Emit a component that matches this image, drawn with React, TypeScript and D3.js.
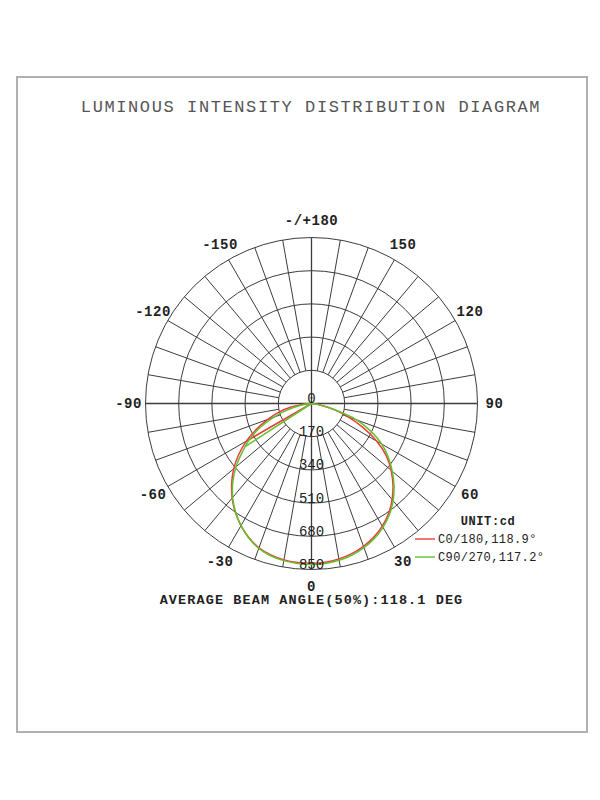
import React from "react";
import * as d3 from "d3";

const TITLE = "LUMINOUS INTENSITY DISTRIBUTION DIAGRAM";
const FOOTER = "AVERAGE BEAM ANGLE(50%):118.1 DEG";
const UNIT = "UNIT:cd";

const RING_VALUES = [170, 340, 510, 680, 850];
const RING_LABELS = ["0", "170", "340", "510", "680", "850"];
const ANGLE_TICKS = [0, 30, 60, 90, 120, 150, 180, -150, -120, -90, -60, -30];
const ANGLE_TICK_LABELS = ["0", "30", "60", "90", "120", "150", "-/+180", "-150", "-120", "-90", "-60", "-30"];

const GAMMA = [-90, -85, -80, -75, -70, -65, -60, -55, -50, -45, -40, -35, -30, -25, -20, -15, -10, -5, 0,
  5, 10, 15, 20, 25, 30, 35, 40, 45, 50, 55, 60, 65, 70, 75, 80, 85, 90];

const SERIES_NAMES = ["C0/180,118.9°", "C90/270,117.2°"];
const SERIES_COLORS = ["#f23a3a", "#62c22e"];

const C0_180 = [0, 40, 110, 175, 240, 310, 385, 455, 520, 578, 632, 680, 722, 758, 786, 803, 813, 817, 818,
  816, 808, 796, 778, 755, 725, 688, 642, 590, 532, 468, 385, 290, 200, 120, 50, 15, 0];
const C90_270 = [0, 20, 60, 130, 205, 290, 365, 432, 505, 570, 628, 678, 722, 760, 789, 807, 817, 822, 824,
  822, 815, 803, 785, 762, 732, 695, 650, 598, 540, 480, 415, 335, 245, 120, 40, 10, 0];
const SERIES = [C0_180, C90_270];

// closing chords drawn from the centre back to the curve
const CHORD_GAMMA = [-60, -57];
const CHORD_VALUE = [385, 405];

const CX = 311.5;
const CY = 403.5;
const R = 166;

export default function App() {
  const r = d3.scaleLinear().domain([0, 850]).range([0, R]);
  const toRad = (g: number) => (g * Math.PI) / 180;
  const px = (g: number, v: number) => CX + r(v) * Math.sin(toRad(g));
  const py = (g: number, v: number) => CY + r(v) * Math.cos(toRad(g));

  const line = d3
    .lineRadial<[number, number]>()
    .angle((d) => Math.PI - toRad(d[0]))
    .radius((d) => r(d[1]));
  const smooth = d3
    .lineRadial<[number, number]>()
    .angle((d) => Math.PI - toRad(d[0]))
    .radius((d) => r(d[1]))
    .curve(d3.curveCatmullRom.alpha(0.5));

  const radials = d3.range(-170, 190, 10).filter((a) => a % 90 !== 0);
  const mono = "'Courier New', 'Liberation Mono', monospace";
  const grid = "#3c3c3c";

  return (
    <svg width={600} height={800} style={{ position: "absolute", left: 0, top: 0, background: "#fff" }}>
      <rect x={17} y={77} width={570} height={655} fill="#fff" stroke="#b0b0b0" strokeWidth={2} />
      <text x={311} y={112} textAnchor="middle" fontFamily={mono} fontSize={17} letterSpacing={1.6} fill="#555">
        {TITLE}
      </text>

      <g stroke={grid} strokeWidth={1} fill="none">
        {RING_VALUES.map((v) => (
          <circle key={v} cx={CX} cy={CY} r={r(v)} />
        ))}
        {radials.map((a) => (
          <line key={a} x1={px(a, RING_VALUES[0])} y1={py(a, RING_VALUES[0])} x2={px(a, 850)} y2={py(a, 850)} />
        ))}
        <line x1={px(-90, 850)} y1={CY} x2={px(90, 850)} y2={CY} strokeWidth={1.3} />
        <line x1={CX} y1={py(180, 850)} x2={CX} y2={py(0, 850)} strokeWidth={1.3} />
      </g>

      {SERIES.map((vals, i) => (
        <g key={i} transform={`translate(${CX},${CY})`} fill="none" stroke={SERIES_COLORS[i]} strokeWidth={1.5}>
          <path d={smooth(GAMMA.map((g, j) => [g, vals[j]] as [number, number])) || ""} />
          <path d={line([[CHORD_GAMMA[i], 0], [CHORD_GAMMA[i], CHORD_VALUE[i]]]) || ""} />
        </g>
      ))}

      {RING_LABELS.map((t, i) => (
        <text key={t} x={CX} y={CY + (i === 0 ? 0 : r(RING_VALUES[i - 1])) - 0.5} textAnchor="middle"
          fontFamily={mono} fontSize={14} fill="#222">
          {t}
        </text>
      ))}

      {ANGLE_TICKS.map((a, i) => (
        <text key={a} x={CX + (R + 17) * Math.sin(toRad(a))} y={CY + (R + 17) * Math.cos(toRad(a))}
          dominantBaseline="central" textAnchor="middle" fontFamily={mono} fontWeight="bold" fontSize={14}
          letterSpacing={0.5} fill="#222">
          {ANGLE_TICK_LABELS[i]}
        </text>
      ))}

      <text x={488} y={525} textAnchor="middle" fontFamily={mono} fontWeight="bold" fontSize={12} letterSpacing={0.6} fill="#222">
        {UNIT}
      </text>
      {SERIES_NAMES.map((n, i) => (
        <g key={n}>
          <line x1={415} x2={435} y1={539 + i * 18} y2={539 + i * 18} stroke={SERIES_COLORS[i]} strokeWidth={1.4} />
          <text x={438} y={543 + i * 18} fontFamily={mono} fontSize={12} letterSpacing={0.4} fill="#222">
            {n}
          </text>
        </g>
      ))}

      <text x={311.5} y={604} textAnchor="middle" fontFamily={mono} fontWeight="bold" fontSize={13.5} letterSpacing={1.1} fill="#222">
        {FOOTER}
      </text>
    </svg>
  );
}
